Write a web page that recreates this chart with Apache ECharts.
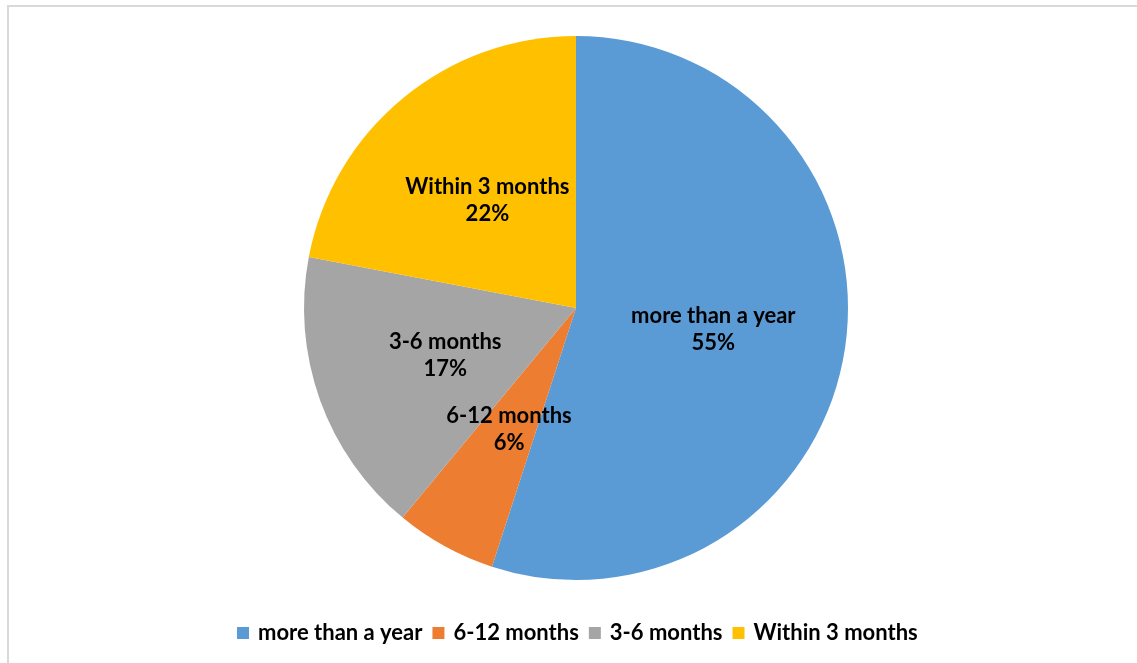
<!DOCTYPE html>
<html>
<head>
<meta charset="utf-8">
<script src="https://cdn.jsdelivr.net/npm/echarts@6/dist/echarts.min.js"></script>
<style>
html,body{margin:0;padding:0;background:#fff;}
#chart{width:1137px;height:663px;}
</style>
</head>
<body>
<div id="chart"></div>
<script>
const categories = ['more than a year', '6-12 months', '3-6 months', 'Within 3 months'];
const values = [55, 6, 17, 22];
const colors = ['#5B9BD5', '#ED7D31', '#A5A5A5', '#FFC000'];

const chart = echarts.init(document.getElementById('chart'));
const font = 'Lato, "Open Sans", sans-serif';
chart.setOption({
  backgroundColor: '#ffffff',
  animation: false,
  color: colors,
  graphic: [{
    type: 'rect',
    shape: {x: 8, y: 6, width: 1160, height: 700},
    style: {fill: 'none', stroke: '#d9d9d9', lineWidth: 2},
    silent: true
  }],
  legend: {
    data: categories,
    left: 237,
    top: 622,
    padding: 0,
    itemWidth: 12,
    itemHeight: 12,
    itemGap: 10,
    icon: 'rect',
    textStyle: {fontFamily: font, fontWeight: 'bold', fontSize: 22, color: '#000', padding: [0, 0, 0, 4]}
  },
  series: [{
    type: 'pie',
    center: [576, 308],
    radius: 272,
    startAngle: 90,
    clockwise: true,
    data: categories.map((c, i) => ({name: c, value: values[i]})),
    itemStyle: {borderWidth: 0},
    label: {
      position: 'inside',
      formatter: p => p.name + '\n' + p.value + '%',
      fontFamily: font,
      fontWeight: 'bold',
      fontSize: 22,
      lineHeight: 27,
      color: '#000',
      align: 'center'
    },
    labelLine: {show: false},
    emphasis: {disabled: true}
  }]
});
</script>
</body>
</html>
